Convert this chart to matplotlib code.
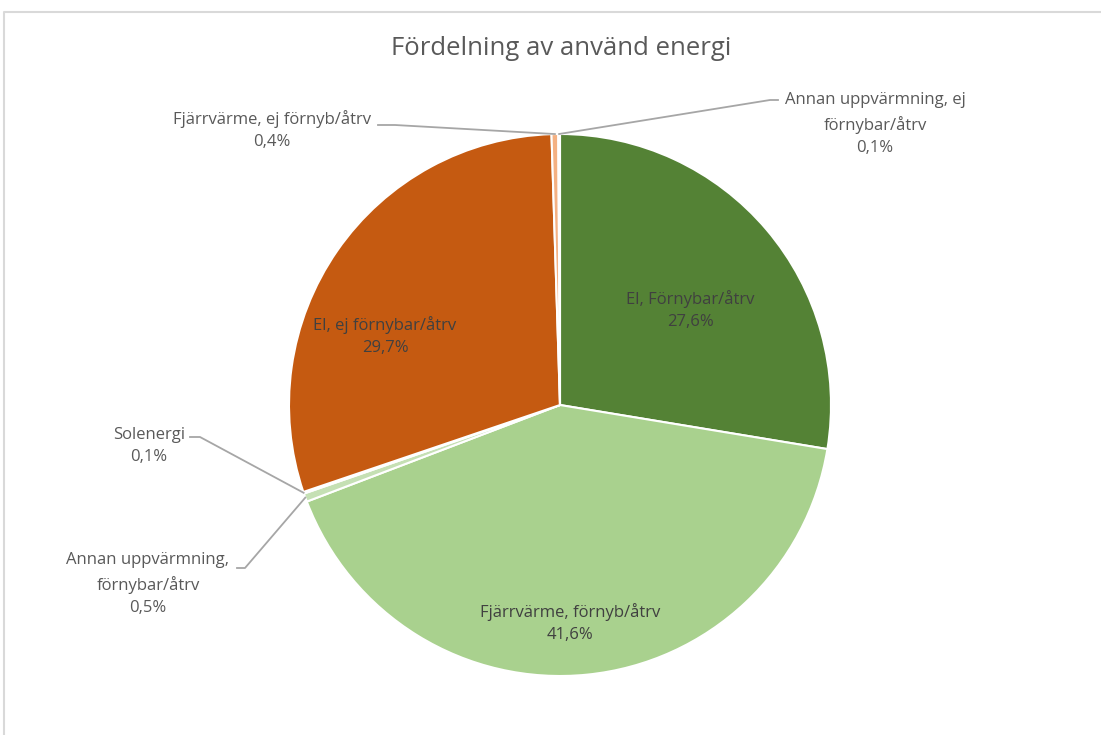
import numpy as np
import matplotlib
matplotlib.use('Agg')
import matplotlib.pyplot as plt
from matplotlib.lines import Line2D

# Data (clockwise from 12 o'clock)
labels = ['El, Förnybar/åtrv', 'Fjärrvärme, förnyb/åtrv', 'Annan uppvärmning,\nförnybar/åtrv',
          'Solenergi', 'El, ej förnybar/åtrv', 'Fjärrvärme, ej förnyb/åtrv',
          'Annan uppvärmning, ej\nförnybar/åtrv']
shares = [27.6, 41.6, 0.5, 0.1, 29.7, 0.4, 0.1]
colors = ['#548235', '#A9D18E', '#C5E0B4', '#E2F0D9', '#C55A11', '#F4B183', '#F8CBAD']

W, H = 1101, 735
TXT = '#595959'
plt.rcParams['font.family'] = ['Open Sans', 'DejaVu Sans']

fig = plt.figure(figsize=(W / 100, H / 100), dpi=100)
ax = fig.add_axes([0, 0, 1, 1])

cx, cy, r = 560, H - 405, 271
wedges, _ = ax.pie(shares, colors=colors, startangle=90, counterclock=False,
                   center=(cx, cy), radius=r, frame=True,
                   wedgeprops=dict(edgecolor='white', linewidth=1.5))
ax.set_xlim(0, W)
ax.set_ylim(0, H)
ax.axis('off')


def fmt(v):
    return ('%.1f%%' % v).replace('.', ',')


def edge_point(w):
    a = np.deg2rad((w.theta1 + w.theta2) / 2)
    return cx + r * np.cos(a), cy + r * np.sin(a)


# labels inside the big slices (pixel positions from top-left)
inside = {0: (690, 310), 1: (570, 623), 4: (385, 336)}
for i, (px, py) in inside.items():
    ax.text(px, H - py, labels[i] + '\n' + fmt(shares[i]), ha='center', va='center',
            fontsize=12, color='#404040', linespacing=1.55)

# outside labels with leader lines: (text centre, elbow, end of line)
outside = {
    5: ((272, 130), (395, 125), (378, 125)),
    6: ((875, 124), (770, 100), (778, 100)),
    3: ((149, 446), (200, 437), (190, 437)),
    2: ((148, 584), (245, 568), (237, 568)),
}
for i, (tpos, elbow, end) in outside.items():
    ex, ey = edge_point(wedges[i])
    ax.add_line(Line2D([ex, elbow[0], end[0]], [ey, H - elbow[1], H - end[1]],
                       color='#A6A6A6', linewidth=1.3))
    ax.text(tpos[0], H - tpos[1], labels[i] + '\n' + fmt(shares[i]), ha='center', va='center',
            fontsize=12, color=TXT, linespacing=1.55)

ax.text(561, H - 48, 'Fördelning av använd energi', ha='center', va='center',
        fontsize=18.5, color=TXT)

# chart area border (partly cropped)
ax.add_line(Line2D([4, 4, W], [0, H - 12, H - 12], color='#D9D9D9', linewidth=1.5))

fig.savefig('out.png', dpi=100)
